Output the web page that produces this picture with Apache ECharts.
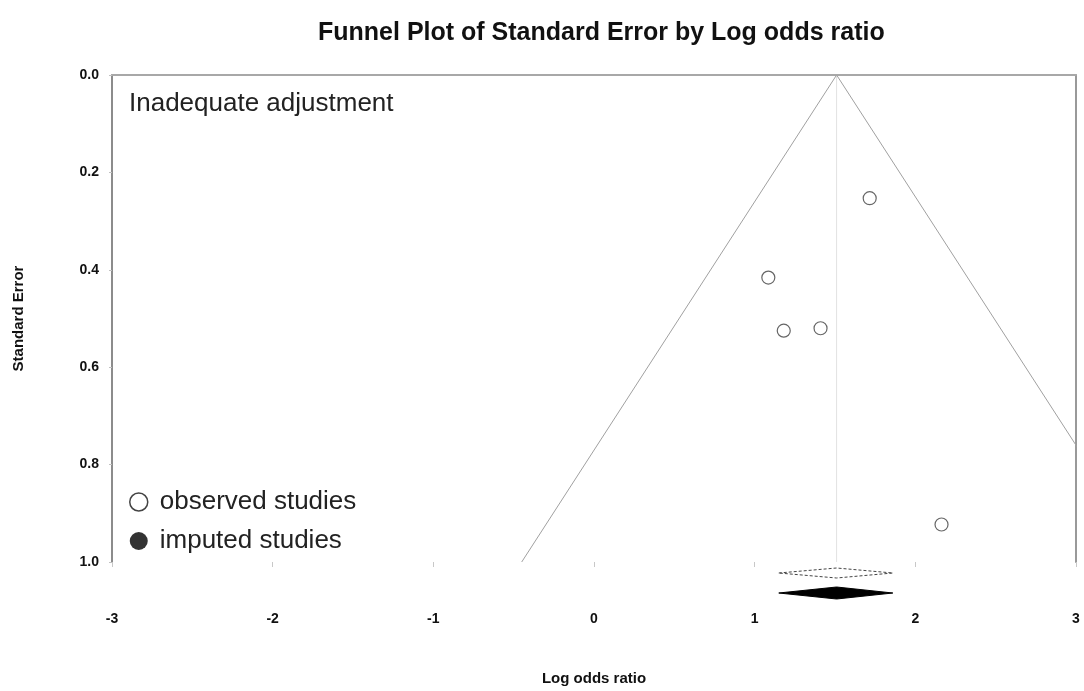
<!DOCTYPE html>
<html>
<head>
<meta charset="utf-8">
<script src="https://cdn.jsdelivr.net/npm/echarts@6/dist/echarts.min.js"></script>
<style>
  html, body { margin: 0; padding: 0; background: #fff; }
  #chart { width: 1084px; height: 691px; }
</style>
</head>
<body>
<div id="chart"></div>
<script>
// Observed studies: log odds ratio and its standard error
const observedLogOR = [1.716, 1.085, 1.181, 1.410, 2.163];
const observedSE    = [0.253, 0.416, 0.525, 0.520, 0.923];

// Imputed studies (trim and fill found none)
const imputedLogOR = [];
const imputedSE    = [];

// Pooled estimate with its 95% interval (observed and adjusted are the same)
const pooledObserved = [1.15, 1.51, 1.86]; // lower, point, upper
const pooledImputed  = [1.15, 1.51, 1.86];

// Axis ticks
const xTicks = [-3, -2, -1, 0, 1, 2, 3];
const yTicks = [0.0, 0.2, 0.4, 0.6, 0.8, 1.0];

const Z = 1.96;
const FONT = '"Liberation Sans", Arial, sans-serif';

const center = pooledObserved[1];
const seMax = yTicks[yTicks.length - 1];
// funnel: pseudo 95% limits around the pooled estimate
const funnel = [
  [center - Z * seMax, seMax],
  [center, 0],
  [center + Z * seMax, seMax]
];

const chart = echarts.init(document.getElementById('chart'), null, { renderer: 'canvas' });

function diamondSeries(name, est, offsetPx, halfH, filled) {
  return {
    name: name,
    type: 'custom',
    clip: false,
    silent: true,
    z: 4,
    data: [est],
    renderItem: function (params, api) {
      const lo = api.coord([api.value(0), seMax]);
      const mid = api.coord([api.value(1), seMax]);
      const hi = api.coord([api.value(2), seMax]);
      const y = lo[1] + offsetPx;
      return {
        type: 'polygon',
        shape: { points: [[lo[0], y], [mid[0], y - halfH], [hi[0], y], [mid[0], y + halfH]] },
        style: filled
          ? { fill: '#000', stroke: '#000', lineWidth: 1 }
          : { fill: 'none', stroke: '#444', lineWidth: 1, lineDash: [3, 2] }
      };
    }
  };
}

const option = {
  backgroundColor: '#fff',
  animation: false,
  textStyle: { fontFamily: FONT },
  title: [
    {
      text: 'Funnel Plot of Standard Error by Log odds ratio',
      left: 313, top: 16,
      textStyle: { fontFamily: FONT, fontWeight: 'bold', fontSize: 25, color: '#111' }
    },
    {
      text: 'Inadequate adjustment',
      left: 124, top: 86,
      textStyle: { fontFamily: FONT, fontWeight: 'normal', fontSize: 26, color: '#222' }
    }
  ],
  legend: {
    orient: 'vertical',
    left: 124, top: 482,
    selectedMode: false,
    itemWidth: 18, itemHeight: 18,
    itemGap: 9,
    textStyle: { fontFamily: FONT, fontSize: 26, color: '#222', lineHeight: 30, padding: [0, 0, 0, 7] },
    data: [
      { name: 'observed studies', icon: 'circle', itemStyle: { color: '#fff', borderColor: '#444', borderWidth: 1.5 } },
      { name: 'imputed studies', icon: 'circle', itemStyle: { color: '#000', borderColor: '#000', borderWidth: 0 } }
    ]
  },
  grid: { left: 112, right: 8, top: 75, bottom: 128, containLabel: false },
  xAxis: [
    {
      type: 'value', position: 'bottom',
      min: xTicks[0], max: xTicks[xTicks.length - 1], interval: 1,
      name: 'Log odds ratio', nameLocation: 'middle', nameGap: 109,
      nameTextStyle: { fontFamily: FONT, fontWeight: 'bold', fontSize: 15, color: '#111' },
      axisLine: { show: false, onZero: false },
      axisTick: { show: true, inside: false, length: 5, lineStyle: { color: '#c8c8c8', width: 1 } },
      axisLabel: {
        margin: 50, fontFamily: FONT, fontWeight: 'bold', fontSize: 14, color: '#111',
        formatter: v => String(v)
      },
      splitLine: { show: false }
    },
    {
      type: 'value', position: 'top',
      min: xTicks[0], max: xTicks[xTicks.length - 1],
      axisLine: { show: true, onZero: false, lineStyle: { color: '#a8a8a8', width: 2 } },
      axisTick: { show: false }, axisLabel: { show: false }, splitLine: { show: false }
    }
  ],
  yAxis: [
    {
      type: 'value', position: 'left', inverse: true,
      min: yTicks[0], max: seMax, interval: 0.2,
      name: 'Standard Error', nameLocation: 'middle', nameGap: 86, nameRotate: 90,
      nameTextStyle: { fontFamily: FONT, fontWeight: 'bold', fontSize: 15, color: '#111' },
      axisLine: { show: true, onZero: false, lineStyle: { color: '#8c8c8c', width: 2 } },
      axisTick: { show: true, length: 3, lineStyle: { color: '#c0c0c0' } },
      axisLabel: {
        margin: 13, fontFamily: FONT, fontWeight: 'bold', fontSize: 14, color: '#111',
        formatter: v => v.toFixed(1)
      },
      splitLine: { show: false }
    },
    {
      type: 'value', position: 'right', inverse: true,
      min: yTicks[0], max: seMax,
      axisLine: { show: true, onZero: false, lineStyle: { color: '#999', width: 2 } },
      axisTick: { show: false }, axisLabel: { show: false }, splitLine: { show: false }
    }
  ],
  series: [
    {
      name: 'funnel', type: 'line', silent: true, clip: true,
      data: funnel, symbol: 'none',
      lineStyle: { color: '#a0a0a0', width: 1 }, z: 2
    },
    {
      name: 'pooled', type: 'line', silent: true,
      data: [[center, 0], [center, seMax]], symbol: 'none',
      lineStyle: { color: '#e2e2e2', width: 1 }, z: 1
    },
    {
      name: 'observed studies', type: 'scatter',
      data: observedLogOR.map((x, i) => [x, observedSE[i]]),
      symbol: 'circle', symbolSize: 13,
      itemStyle: { color: '#fff', borderColor: '#666', borderWidth: 1.2, opacity: 1 }, z: 3
    },
    {
      name: 'imputed studies', type: 'scatter',
      data: imputedLogOR.map((x, i) => [x, imputedSE[i]]),
      symbol: 'circle', symbolSize: 13,
      itemStyle: { color: '#000' }, z: 3
    },
    diamondSeries('observed pooled', pooledObserved, 11, 5, false),
    diamondSeries('imputed pooled', pooledImputed, 31, 6, true)
  ]
};

chart.setOption(option);
</script>
</body>
</html>
